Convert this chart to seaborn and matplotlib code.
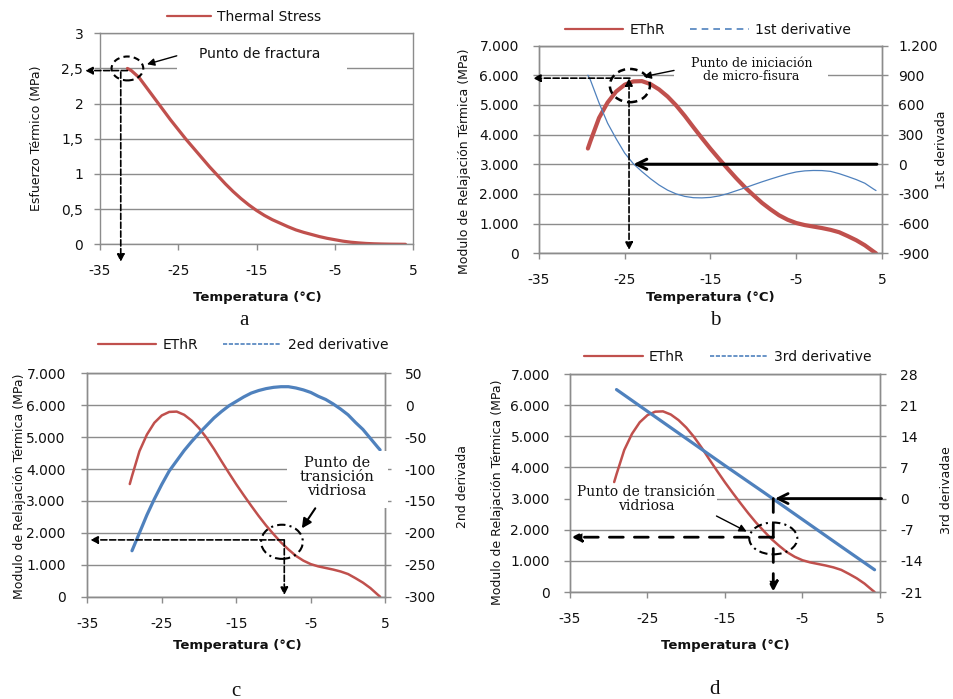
"""
Thermal stress / EThR panels (a-d) with derivative curves.
"""

import matplotlib
matplotlib.use("Agg")
import matplotlib.pyplot as plt
from matplotlib.lines import Line2D
from matplotlib.patches import Ellipse, Rectangle
import seaborn as sns


# ============================================================
# DATA
# ============================================================

stress_temps = [-31.5, -31, -30, -29, -28, -27, -26, -25, -24, -23, -22, -21, -20,
                -19, -18, -17, -16, -15, -14, -13, -12, -11, -10, -9, -8, -7, -6,
                -5, -4, -3, -2, -1, 0, 1, 2, 3, 4]
thermal_stress = [2.50, 2.47, 2.37, 2.22, 2.07, 1.92, 1.77, 1.63, 1.49, 1.36, 1.23,
                  1.10, 0.98, 0.86, 0.75, 0.65, 0.56, 0.48, 0.41, 0.35, 0.30, 0.25,
                  0.205, 0.17, 0.14, 0.11, 0.085, 0.065, 0.045, 0.03, 0.02, 0.012,
                  0.007, 0.004, 0.002, 0.001, 0.0]

temps = [-29.3, -29, -28, -27, -26, -25, -24, -23, -22, -21, -20, -19, -18, -17, -16,
         -15, -14, -13, -12, -11, -10, -9, -8, -7, -6, -5, -4, -3, -2, -1, 0, 1, 2,
         3, 4, 4.3]
ethr = [3530, 3780, 4560, 5080, 5450, 5680, 5790, 5800, 5700, 5520, 5280, 4980,
        4630, 4250, 3880, 3520, 3180, 2850, 2530, 2230, 1960, 1700, 1480, 1280,
        1130, 1020, 950, 900, 850, 790, 710, 580, 440, 270, 60, 0]
deriv1 = [900, 850, 620, 415, 257, 112, 5, -74, -146, -210, -262, -300, -325, -338,
          -340, -335, -320, -297, -268, -239, -208, -178, -150, -123, -98, -78,
          -67, -63, -64, -72, -95, -124, -155, -192, -250, -266]

# the 2nd derivative curve starts one step later than the others
temps_d2 = temps[1:]
deriv2 = [-228, -200, -172, -147, -124, -103, -87, -71, -57, -44, -32, -20, -10,
          -1, 6, 13, 19, 23, 26, 28, 29, 29, 27, 24, 20, 14, 9, 2, -6, -15, -27,
          -38, -52, -66, -70]

temps_d3 = [-29, -25, -20, -15, -10, -5, 0, 4.3]
deriv3 = [24.5, 19.6, 13.5, 7.4, 1.4, -4.7, -10.8, -16.0]

x_ticks = [-35, -25, -15, -5, 5]
stress_ticks = [0, 0.5, 1, 1.5, 2, 2.5, 3]
stress_labels = ["0", "0,5", "1", "1,5", "2", "2,5", "3"]
ethr_ticks = [0, 1000, 2000, 3000, 4000, 5000, 6000, 7000]
ethr_labels = ["0", "1.000", "2.000", "3.000", "4.000", "5.000", "6.000", "7.000"]
d1_ticks = [-900, -600, -300, 0, 300, 600, 900, 1200]
d1_labels = ["-900", "-600", "-300", "0", "300", "600", "900", "1.200"]
d2_ticks = [-300, -250, -200, -150, -100, -50, 0, 50]
d2_labels = ["-300", "-250", "-200", "-150", "-100", "-50", "0", "50"]
d3_ticks = [-21, -14, -7, 0, 7, 14, 21, 28]
d3_labels = ["-21", "-14", "-7", "0", "7", "14", "21", "28"]


# ============================================================
# STYLE
# ============================================================

sns.set_style("white")
plt.rcParams["font.family"] = ["DejaVu Sans"]
plt.rcParams["axes.unicode_minus"] = False

W, H = 954, 699
RED = "#C0504D"
BLUE = "#4F81BD"
GREY = "#8c8c8c"
INK = "#111111"
SERIF = "DejaVu Serif"

fig = plt.figure(figsize=(W / 100, H / 100), dpi=100)


def px_axes(left, top, right, bottom):
    return fig.add_axes([left / W, 1 - bottom / H, (right - left) / W, (bottom - top) / H])


def fig_text(x, y, s, **kw):
    fig.text(x / W, 1 - y / H, s, ha="center", va="center", color=INK, **kw)


def style(ax, pad_x=10, pad_y=8, grid=True):
    for sp in ax.spines.values():
        sp.set_color(GREY)
        sp.set_linewidth(1)
    if grid:
        ax.grid(axis="y", color=GREY, lw=1)
        ax.grid(axis="x", visible=False)
    ax.set_axisbelow(True)
    ax.tick_params(axis="both", direction="out", length=4.5, width=1, color=GREY,
                   labelsize=10, labelcolor=INK)
    ax.tick_params(axis="x", pad=pad_x, bottom=True)
    ax.tick_params(axis="y", pad=pad_y, left=True)
    ax.set_xlim(-35, 5)
    ax.set_xticks(x_ticks)
    ax.set_xticklabels([str(t) for t in x_ticks])


def arrow(ax, start, end, trans, style_="-|>", ls="--", lw=1.2, scale=11):
    ax.annotate("", xy=end, xytext=start, xycoords=trans, textcoords=trans,
                arrowprops=dict(arrowstyle=style_, color="black", lw=lw, ls=ls,
                                shrinkA=0, shrinkB=0, mutation_scale=scale),
                annotation_clip=False, zorder=5)


def legend(x, y, handles, labels, hl=4.2):
    fig.legend(handles, labels, loc="center", bbox_to_anchor=(x / W, 1 - y / H),
               ncol=len(handles), frameon=False, fontsize=10, handlelength=hl,
               handletextpad=0.45, columnspacing=1.8, borderpad=0, labelcolor=INK)


red_h = Line2D([], [], color=RED, lw=1.6)


# ============================================================
# PANEL A - THERMAL STRESS
# ============================================================

ax_a = px_axes(100, 33.3, 413.3, 244.3)
style(ax_a, pad_x=10, pad_y=7.5)
sns.lineplot(x=stress_temps, y=thermal_stress, ax=ax_a, color=RED, lw=2.3)
ax_a.set_ylim(0, 3)
ax_a.set_yticks(stress_ticks)
ax_a.set_yticklabels(stress_labels)

tr = ax_a.transData
ax_a.add_patch(Rectangle((-25.2, 2.41), 21.7, 0.47, fc="white", ec="none", zorder=1.5))
ax_a.text(-14.6, 2.71, "Punto de fractura", fontsize=10, ha="center", va="center",
          color=INK, zorder=4)
ax_a.add_patch(Ellipse((-31.5, 2.5), 4.05, 0.34, fill=False, ec="black", lw=1.5,
                       ls=(0, (3, 2)), zorder=5, clip_on=False))
arrow(ax_a, (-31.5, 2.47), (-36.9, 2.47), tr)
arrow(ax_a, (-32.35, 2.45), (-32.35, -0.25), tr)
arrow(ax_a, (-25.2, 2.68), (-29.0, 2.56), tr, ls="-", lw=1.0)

legend(244, 17, [red_h], ["Thermal Stress"], hl=3.2)
fig_text(37, 138, "Esfuerzo Térmico (MPa)", rotation=90, fontsize=9)
fig_text(257, 298, "Temperatura (°C)", fontsize=9.5, fontweight="bold")
fig_text(244, 321, "a", fontsize=15, family="Liberation Serif")


# ============================================================
# PANEL B - ETHR + 1ST DERIVATIVE
# ============================================================

ax_b = px_axes(539, 45.5, 882, 253.3)
style(ax_b, pad_x=10, pad_y=10)
sns.lineplot(x=temps, y=ethr, ax=ax_b, color=RED, lw=3.0)
ax_b.set_ylim(0, 7000)
ax_b.set_yticks(ethr_ticks)
ax_b.set_yticklabels(ethr_labels)

ax_b2 = ax_b.twinx()
sns.lineplot(x=temps, y=deriv1, ax=ax_b2, color=BLUE, lw=0.9)
style(ax_b2, pad_x=10, pad_y=7, grid=False)
ax_b2.tick_params(axis="y", right=True, left=False)
ax_b2.set_ylim(-900, 1200)
ax_b2.set_yticks(d1_ticks)
ax_b2.set_yticklabels(d1_labels)
ax_b2.set_ylabel("")

tr = ax_b.transData
ax_b.add_patch(Rectangle((-19.25, 5670), 18.0, 950, fc="white", ec="none", zorder=1.5))
ax_b2.text(-10.2, 6160, "Punto de iniciación\nde micro-fisura", transform=tr,
           fontsize=9, family=SERIF, ha="center", va="center", linespacing=1.0,
           color=INK, zorder=4)
ax_b2.add_patch(Ellipse((-24.4, 5650), 4.67, 1120, transform=tr, fill=False,
                        ec="black", lw=1.8, ls=(0, (3, 2)), zorder=5, clip_on=False))
arrow(ax_b2, (-24.4, 5900), (-35.7, 5900), tr)
arrow(ax_b2, (-24.5, 110), (-24.5, 5900), tr, style_="<|-|>")
arrow(ax_b2, (4.4, 0), (-24.0, 0), ax_b2.transData, style_="->", ls="-", lw=2.2,
      scale=18)
arrow(ax_b2, (-19.25, 6160), (-22.8, 5950), tr, ls="-", lw=1.0)

legend(708, 30, [red_h, Line2D([], [], color=BLUE, lw=1.2, ls=(0, (4, 3)))],
       ["EThR", "1st derivative"])
fig_text(465, 161, "Modulo de Relajación Térmica (MPa)", rotation=90, fontsize=9)
fig_text(942, 150, "1st derivada", rotation=90, fontsize=9)
fig_text(710, 298, "Temperatura (°C)", fontsize=9.5, fontweight="bold")
fig_text(715, 321, "b", fontsize=15, family="Liberation Serif")


# ============================================================
# PANEL C - ETHR + 2ND DERIVATIVE
# ============================================================

ax_c = px_axes(87.3, 373.3, 385.3, 596.7)
style(ax_c, pad_x=10, pad_y=11)
sns.lineplot(x=temps, y=ethr, ax=ax_c, color=RED, lw=1.8)
ax_c.set_ylim(0, 7000)
ax_c.set_yticks(ethr_ticks)
ax_c.set_yticklabels(ethr_labels)

ax_c2 = ax_c.twinx()
sns.lineplot(x=temps_d2, y=deriv2, ax=ax_c2, color=BLUE, lw=2.3)
style(ax_c2, pad_x=10, pad_y=9.5, grid=False)
ax_c2.tick_params(axis="y", right=True, left=False)
ax_c2.set_ylim(-300, 50)
ax_c2.set_yticks(d2_ticks)
ax_c2.set_yticklabels(d2_labels)
ax_c2.set_ylabel("")

tr = ax_c.transData
ax_c2.add_patch(Rectangle((-8.2, 2780), 13.5, 1790, transform=tr, fc="white",
                          ec="none", zorder=3, clip_on=False))
ax_c2.text(-1.5, 3760, "Punto de\ntransición\nvidriosa", transform=tr, fontsize=10.5,
           family=SERIF, ha="center", va="center", linespacing=1.0,
           color=INK, zorder=4)
ax_c2.add_patch(Ellipse((-8.87, 1720), 5.6, 1070, transform=tr, fill=False,
                        ec="black", lw=1.5, ls=(0, (4, 2, 1, 2)), zorder=5,
                        clip_on=False))
arrow(ax_c2, (-8.65, 1780), (-34.6, 1780), tr)
arrow(ax_c2, (-8.56, 1780), (-8.56, 50), tr)
arrow(ax_c2, (-4.4, 2770), (-6.2, 2140), tr, ls="-", lw=1.5, scale=14)

legend(243, 345, [red_h, Line2D([], [], color=BLUE, lw=1.2, ls=(0, (2.5, 1)))],
       ["EThR", "2ed derivative"])
fig_text(20, 486, "Modulo de Relajación Térmica (MPa)", rotation=90, fontsize=9)
fig_text(463, 486, "2nd derivada", rotation=90, fontsize=9)
fig_text(237, 645, "Temperatura (°C)", fontsize=9.5, fontweight="bold")
fig_text(236, 691, "c", fontsize=15, family="Liberation Serif")


# ============================================================
# PANEL D - ETHR + 3RD DERIVATIVE
# ============================================================

ax_d = px_axes(570, 374, 880, 592)
style(ax_d, pad_x=10, pad_y=10)
sns.lineplot(x=temps, y=ethr, ax=ax_d, color=RED, lw=1.8)
ax_d.set_ylim(0, 7000)
ax_d.set_yticks(ethr_ticks)
ax_d.set_yticklabels(ethr_labels)

ax_d2 = ax_d.twinx()
sns.lineplot(x=temps_d3, y=deriv3, ax=ax_d2, color=BLUE, lw=2.3)
style(ax_d2, pad_x=10, pad_y=10, grid=False)
ax_d2.tick_params(axis="y", right=True, left=False)
ax_d2.set_ylim(-21, 28)
ax_d2.set_yticks(d3_ticks)
ax_d2.set_yticklabels(d3_labels)
ax_d2.set_ylabel("")

tr = ax_d.transData
ax_d.add_patch(Rectangle((-35, 2440), 19.0, 1030, fc="white", ec="none", zorder=1.5))
ax_d2.text(-25.2, 2990, "Punto de transición\nvidriosa", transform=tr, fontsize=10,
           family=SERIF, ha="center", va="center", linespacing=1.05,
           color=INK, zorder=4)
ax_d2.add_patch(Ellipse((-8.77, 1720), 6.2, 1020, transform=tr, fill=False,
                        ec="black", lw=1.5, ls=(0, (4, 2, 1, 2)), zorder=5,
                        clip_on=False))
arrow(ax_d2, (-8.77, 1760), (-34.8, 1760), tr, ls=(0, (5, 4)), lw=2.0, scale=14)
arrow(ax_d2, (-8.77, 3000), (-8.77, 10), tr, ls=(0, (5, 4)), lw=2.0, scale=14)
arrow(ax_d2, (5.2, 0), (-8.55, 0), ax_d2.transData, style_="->", ls="-", lw=2.0,
      scale=18)
arrow(ax_d2, (-16.1, 2440), (-12.2, 1940), tr, ls="-", lw=1.0)

legend(728, 357, [red_h, Line2D([], [], color=BLUE, lw=1.2, ls=(0, (2.5, 1)))],
       ["EThR", "3rd derivative"])
fig_text(497, 492, "Modulo de Relajación Térmica (MPa)", rotation=90, fontsize=9)
fig_text(947, 490, "3rd derivadae", rotation=90, fontsize=9)
fig_text(725, 645, "Temperatura (°C)", fontsize=9.5, fontweight="bold")
fig_text(715, 689, "d", fontsize=15, family="Liberation Serif")


fig.savefig("out.png", dpi=100, facecolor="white")
plt.close(fig)
